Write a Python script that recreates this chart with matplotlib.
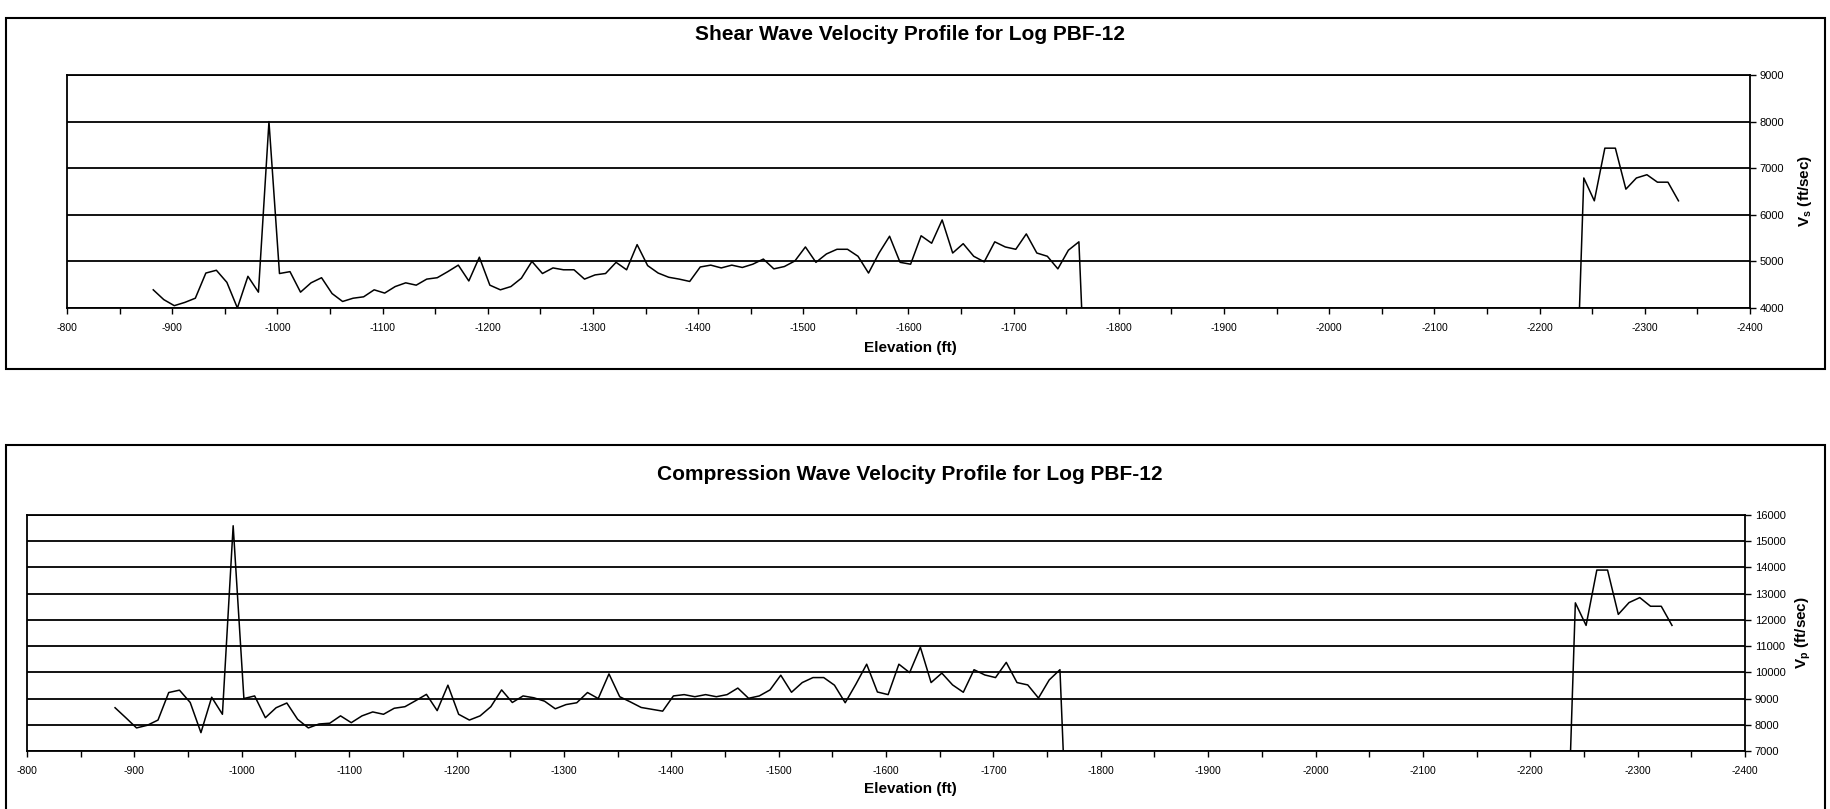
import matplotlib
matplotlib.use("Agg")
import matplotlib.pyplot as plt
from matplotlib.patches import Rectangle
from matplotlib.ticker import MultipleLocator

plt.rcParams['font.family'] = ['Liberation Sans', 'DejaVu Sans']
plt.rcParams['axes.unicode_minus'] = False
plt.rcParams['mathtext.fontset'] = 'custom'
plt.rcParams['mathtext.rm'] = 'Liberation Sans:bold'
plt.rcParams['mathtext.bf'] = 'Liberation Sans:bold'

# elevation (ft) of each log reading; two zero rows mark the gap in the log
elevation = [-882, -892, -902, -912, -922, -932, -942, -952, -962, -972,
             -982, -992, -1002, -1012, -1022, -1032, -1042, -1052, -1062, -1072,
             -1082, -1092, -1102, -1112, -1122, -1132, -1142, -1152, -1162, -1172,
             -1182, -1192, -1202, -1212, -1222, -1232, -1242, -1252, -1262, -1272,
             -1282, -1292, -1302, -1312, -1322, -1332, -1342, -1352, -1362, -1372,
             -1382, -1392, -1402, -1412, -1422, -1432, -1442, -1452, -1462, -1472,
             -1482, -1492, -1502, -1512, -1522, -1532, -1542, -1552, -1562, -1572,
             -1582, -1592, -1602, -1612, -1622, -1632, -1642, -1652, -1662, -1672,
             -1682, -1692, -1702, -1712, -1722, -1732, -1742, -1752, -1762,
             -1772, -2232,
             -2242, -2252, -2262, -2272, -2282, -2292, -2302, -2312, -2322, -2332]

# shear wave velocity (ft/sec)
vs = [4390, 4180, 4050, 4120, 4210, 4750, 4810, 4550, 4000, 4680,
      4340, 8000, 4740, 4780, 4340, 4540, 4650, 4310, 4140, 4210,
      4240, 4390, 4320, 4460, 4540, 4490, 4620, 4650, 4780, 4920,
      4580, 5090, 4490, 4390, 4460, 4640, 5000, 4740, 4860, 4820,
      4820, 4620, 4710, 4740, 4980, 4820, 5360, 4910, 4750, 4660,
      4620, 4570, 4880, 4920, 4860, 4920, 4870, 4940, 5050, 4840,
      4890, 5010, 5310, 4980, 5160, 5260, 5260, 5110, 4750, 5180,
      5540, 4980, 4940, 5550, 5390, 5890, 5180, 5380, 5110, 4990,
      5420, 5310, 5260, 5590, 5180, 5110, 4840, 5240, 5420,
      0, 0,
      6790, 6300, 7430, 7430, 6550, 6790, 6860, 6700, 6700, 6300]

# compression wave velocity (ft/sec)
vp = [8650, 8270, 7880, 7980, 8180, 9230, 9320, 8850, 7700, 9050,
      8400, 15590, 9000, 9100, 8270, 8650, 8830, 8210, 7880, 8030,
      8060, 8340, 8080, 8340, 8490, 8400, 8630, 8690, 8920, 9160,
      8540, 9510, 8400, 8180, 8340, 8690, 9330, 8850, 9100, 9030,
      8900, 8610, 8770, 8840, 9230, 9000, 9940, 9070, 8870, 8660,
      8590, 8520, 9100, 9150, 9070, 9150, 9070, 9150, 9400, 9010,
      9100, 9330, 9890, 9240, 9610, 9800, 9800, 9510, 8840, 9550,
      10310, 9250, 9150, 10310, 9990, 10960, 9610, 9970, 9520, 9240,
      10100, 9900, 9800, 10380, 9610, 9520, 9020, 9710, 10100,
      0, 0,
      12650, 11790, 13900, 13900, 12210, 12660, 12850, 12520, 12520, 11790]

W, H = 1831, 809
fig = plt.figure(figsize=(W / 100, H / 100), dpi=100)


def px_axes(left, top, right, bottom):
    return fig.add_axes([left / W, 1 - bottom / H, (right - left) / W, (bottom - top) / H])


def style_axis(ax, vals, ylo, yhi):
    ax.plot(elevation, vals, color='black', lw=1.1, clip_on=True)
    ax.set_xlim(-800, -2400)
    ax.set_ylim(ylo, yhi)
    ax.xaxis.set_major_locator(MultipleLocator(100))
    ax.xaxis.set_minor_locator(MultipleLocator(50))
    ax.yaxis.set_major_locator(MultipleLocator(1000))
    ax.yaxis.tick_right()
    ax.grid(axis='y', color='black', lw=1.3)
    for s in ax.spines.values():
        s.set_linewidth(1.3)
    ax.tick_params(axis='x', which='both', direction='out', length=4, width=1,
                   labelsize=7.5, pad=7)
    ax.tick_params(axis='y', direction='out', length=4, width=1, labelsize=8, pad=3)
    for lab in ax.get_xticklabels():
        lab.set_family(['Liberation Sans Narrow', 'Liberation Sans'])


# ---- top chart: shear wave
fig.patches.append(Rectangle((6 / W, 1 - 369 / H), 1819 / W, 351 / H, transform=fig.transFigure,
                             fill=False, edgecolor='black', lw=1.5))
ax1 = px_axes(67, 75, 1750, 308)
style_axis(ax1, vs, 4000, 9000)
fig.text(910 / W, 1 - 35 / H, 'Shear Wave Velocity Profile for Log PBF-12', ha='center', va='center',
         fontsize=15, fontweight='bold')
fig.text(910 / W, 1 - 348 / H, 'Elevation (ft)', ha='center', va='center', fontsize=11, fontweight='bold')
fig.text(1805 / W, 1 - 191 / H, r'V$_\mathbf{s}$ (ft/sec)', ha='center', va='center', rotation=90,
         fontsize=11, fontweight='bold')

# ---- bottom chart: compression wave
fig.patches.append(Rectangle((6 / W, -0.05), 1819 / W, 1 - 445 / H + 0.05, transform=fig.transFigure,
                             fill=False, edgecolor='black', lw=1.5))
ax2 = px_axes(27, 515, 1745, 751)
style_axis(ax2, vp, 7000, 16000)
fig.text(910 / W, 1 - 475 / H, 'Compression Wave Velocity Profile for Log PBF-12', ha='center', va='center',
         fontsize=15, fontweight='bold')
fig.text(910 / W, 1 - 789 / H, 'Elevation (ft)', ha='center', va='center', fontsize=11, fontweight='bold')
fig.text(1803 / W, 1 - 633 / H, r'V$_\mathbf{p}$ (ft/sec)', ha='center', va='center', rotation=90,
         fontsize=11, fontweight='bold')

fig.savefig('out.png', dpi=100)
